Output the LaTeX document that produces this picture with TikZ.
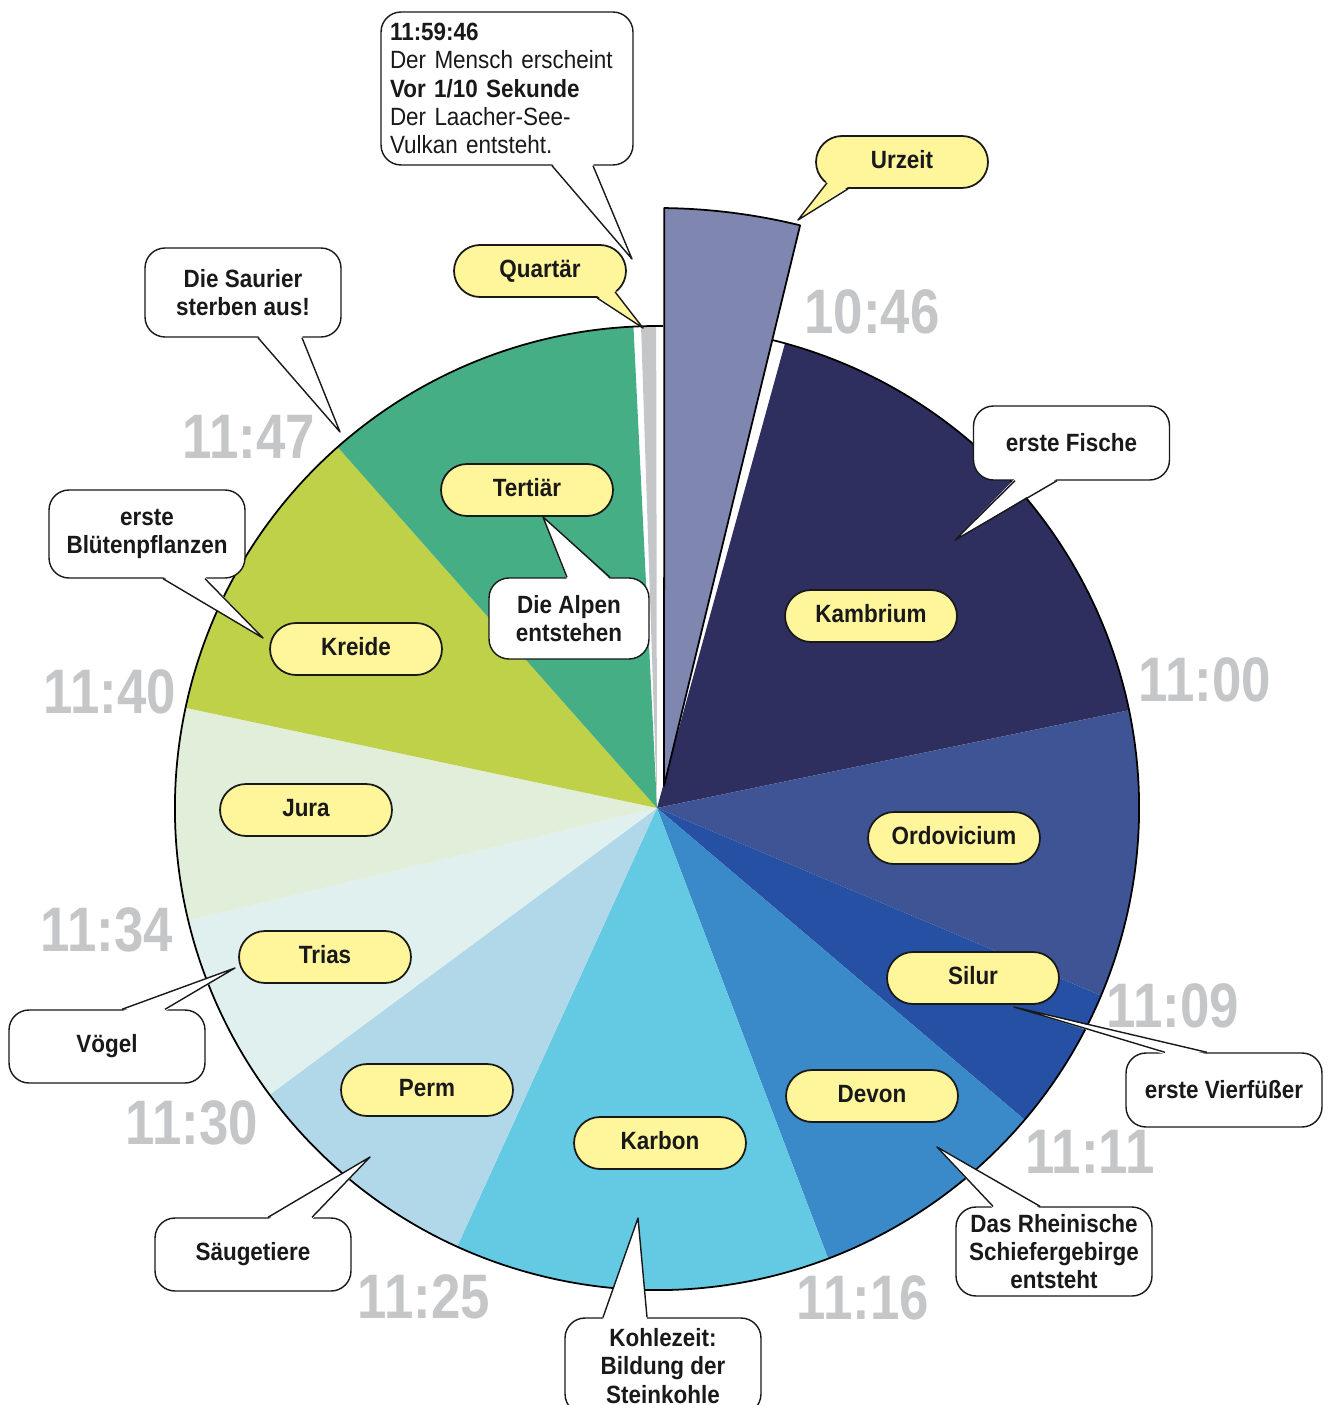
\documentclass[tikz,border=0pt]{standalone}
\usepackage{fontspec}
\setmainfont{Liberation Sans}[FakeStretch=0.9]
\newfontfamily\zeitfont{Liberation Sans}[FakeStretch=0.84]
\usetikzlibrary{calc}

\definecolor{gelb}{HTML}{FFF59B}
\definecolor{grau}{HTML}{C5C6C8}
\definecolor{urzeit}{HTML}{7F86B0}
\definecolor{kambrium}{HTML}{2E2F5E}
\definecolor{ordovicium}{HTML}{3F5494}
\definecolor{silur}{HTML}{2650A4}
\definecolor{devon}{HTML}{3A89C8}
\definecolor{karbon}{HTML}{64C9E2}
\definecolor{perm}{HTML}{B1D8E9}
\definecolor{trias}{HTML}{E0F0EF}
\definecolor{jura}{HTML}{E0EEDA}
\definecolor{kreide}{HTML}{BFD149}
\definecolor{tertiaer}{HTML}{45AE85}
\definecolor{quartaer}{HTML}{C5C6C8}

\tikzset{
  periode/.style={draw=black!90, line width=1pt, fill=gelb, text=black!90,
    rounded corners=0.52cm, minimum width=3.44cm, minimum height=1.04cm,
    text height=0.72em, text depth=0pt, font=\fontsize{14.2}{16}\selectfont\bfseries},
  sprech/.style={draw=black!90, line width=0.8pt, fill=white, text=black!90,
    rounded corners=0.4cm, minimum width=3.92cm, inner sep=0pt, align=center,
    font=\fontsize{14.2}{16}\selectfont\bfseries},
  uhr/.style={text=grau, font=\zeitfont\fontsize{35.8}{36}\selectfont\bfseries},
}

\begin{document}
\begin{tikzpicture}[x=0.02cm, y=-0.02cm, line join=round]
\useasboundingbox (0,0) rectangle (1331,1405);

% Torte
\begin{scope}[shift={(657,808)}]
\foreach \a/\b/\c in {15.4/78.3/kambrium, 78.3/112.9/ordovicium, 112.9/130.3/silur,
  130.3/159.2/devon, 159.2/204.5/karbon, 204.5/233.5/perm, 233.5/256.5/trias,
  256.5/282/jura, 282/318.5/kreide, 318.5/357.2/tertiaer, 358.1/359.9/quartaer}
  \fill[\c] (0,0) -- (\a-90:482) arc[start angle=\a-90, end angle=\b-90, radius=482] -- cycle;
\draw[line width=1pt] (-76.2:482) arc[start angle=-76.2, end angle=270.7, radius=482];
\draw[fill=urzeit, line width=1pt] (7,-22) -- (-89.3:600)
  arc[start angle=-89.3, end angle=-76.2, radius=600] -- cycle;
\end{scope}

% Uhrzeiten
\foreach \t/\x/\y [count=\i] in {10:46/872/312, 11:00/1205/680, 11:09/1173/1006,
  11:11/1090/1152, 11:16/863/1298, 11:25/424/1297, 11:30/192/1123,
  11:34/107/930, 11:40/110/692, 11:47/249/437}
  \node[uhr] (uhr\i) at (\x,\y) {\t};

% Erdzeitalter
\node[periode] (urzeit) at (902,162) {Urzeit};
\node[periode] (quartaer) at (540,271) {Quartär};
\node[periode] (tertiaer) at (527,490) {Tertiär};
\node[periode] (kambrium) at (871,616) {Kambrium};
\node[periode] (kreide) at (356,649) {Kreide};
\node[periode] (jura) at (306,810) {Jura};
\node[periode] (ordovicium) at (954,838) {Ordovicium};
\node[periode] (trias) at (325,957) {Trias};
\node[periode] (silur) at (973,978) {Silur};
\node[periode] (perm) at (427,1090) {Perm};
\node[periode] (devon) at (872,1096) {Devon};
\node[periode] (karbon) at (660,1143) {Karbon};

% Sprechblasen
\node[sprech, minimum width=5.04cm, minimum height=3.06cm, text width=4.68cm,
  align=left, font=\fontsize{14.2}{16}\selectfont] (mensch) at (507,88.5)
  {\textbf{11:59:46}\\Der Mensch erscheint\\\textbf{Vor 1/10 Sekunde}\\Der Laacher-See-\\Vulkan entsteht.};
\node[sprech, minimum height=1.78cm] (saurier) at (243,292.5) {Die Saurier\\sterben aus!};
\node[sprech, minimum height=1.76cm] (bluete) at (147,534) {erste\\Blütenpflanzen};
\node[sprech, minimum height=1.48cm] (fische) at (1071.5,443) {erste Fische};
\node[sprech, minimum width=3.2cm, minimum height=1.62cm] (alpen) at (569,618.5) {Die Alpen\\entstehen};
\node[sprech, minimum height=1.46cm] (voegel) at (107,1046.5) {Vögel};
\node[sprech, minimum height=1.48cm] (vierfuesser) at (1224,1090) {erste Vierfüßer};
\node[sprech, minimum height=1.78cm] (rhein) at (1054,1251.5) {Das Rheinische\\Schiefergebirge\\entsteht};
\node[sprech, minimum height=1.46cm] (saeuger) at (253,1254.5) {Säugetiere};
\node[sprech, minimum height=1.92cm] (kohle) at (663,1366) {Kohlezeit:\\Bildung der\\Steinkohle};

% Spitzen
\coordinate (tipmensch) at (632,259);
\coordinate (tipsaurier) at (340,432);
\coordinate (tipbluete) at (263,638);
\coordinate (tipfische) at (955,540);
\coordinate (tipalpen) at (543,517);
\coordinate (tipvoegel) at (235,968);
\coordinate (tipvierfuesser) at (1014,1007);
\coordinate (tiprhein) at (937,1147);
\coordinate (tipsaeuger) at (370,1157);
\coordinate (tipkohle) at (638,1218);
\coordinate (tipurzeit) at (798,220);
\coordinate (tipquartaer) at (643,328);

\foreach \n/\s/\p/\q/\d/\f in {mensch/south/{45,0}/{86,0}/-2/white,
  saurier/south/{15,0}/{59,0}/-2/white, bluete/south/{16,0}/{58,0}/-2/white,
  fische/south/{-56.5,0}/{-14.5,0}/-2/white, alpen/north/{-2,0}/{41,0}/2/white,
  voegel/north/{15,0}/{58,0}/2/white, vierfuesser/north/{-59,0}/{-17,0}/2/white,
  rhein/north/{-61,0}/{-14,0}/2/white, saeuger/north/{15,0}/{59,0}/2/white,
  kohle/north/{-60,0}/{-16,0}/2/white, urzeit/south/{-75,-6}/{-54,0}/-2/gelb,
  quartaer/south/{75,-6}/{57,0}/-2/gelb} {
  \fill[\f] ($(\n.\s)+(\p)+(0,\d)$) -- (tip\n) -- ($(\n.\s)+(\q)+(0,\d)$) -- cycle;
  \draw[black!90, line width=0.8pt] ($(\n.\s)+(\p)$) -- (tip\n) -- ($(\n.\s)+(\q)$);
}
\end{tikzpicture}
\end{document}
